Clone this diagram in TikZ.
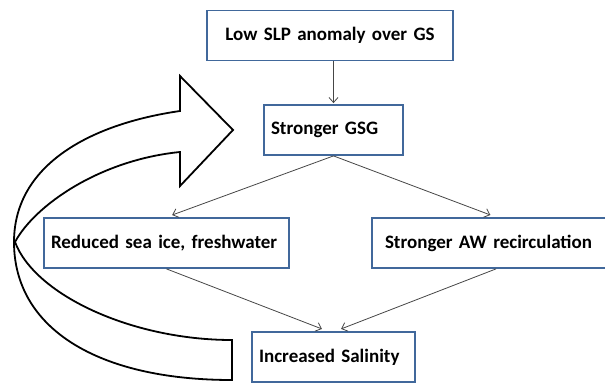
\documentclass[tikz,border=0pt]{standalone}
\usepackage{fontspec}
\setmainfont{Carlito}
\usetikzlibrary{arrows.meta,positioning}
\definecolor{boxblue}{RGB}{65,104,155}
\definecolor{linkgray}{RGB}{70,70,70}

\begin{document}
\begin{tikzpicture}[
    x=1pt, y=-1pt,
    box/.style={rectangle, draw=boxblue, line width=1.8pt, fill=white,
                minimum height=50pt, inner xsep=7pt, inner ysep=0pt,
                font=\fontsize{19}{22}\selectfont\bfseries, align=left},
    arrow/.style={draw=linkgray, line width=0.8pt,
                  -{Straight Barb[length=5pt,width=9pt]}, shorten >=6pt},
    bigarrow/.style={draw=black, line width=1.8pt, line join=miter, fill=white}
]
\useasboundingbox (0,0) rectangle (605,383);
\clip (0,0) rectangle (605,383);

\draw[bigarrow] (232,380) .. controls (97,380) and (14,328) .. (14,242)
    .. controls (14,165) and (90,124) .. (180,111) -- (180,76) -- (233,130)
    -- (180,186) -- (180,152) .. controls (100,160) and (35,205) .. (15,242)
    .. controls (35,295) and (132,340) .. (232,340) -- cycle;

\node[box, text width=232pt, align=center] (slp) at (330,35.5) {Low SLP anomaly over GS};
\node[box, text width=125pt] (gsg) at (333.5,130) {Stronger GSG};
\node[box, text width=231pt] (ice) at (166.5,243) {Reduced sea ice, freshwater};
\node[box, text width=222pt, inner xsep=13pt] (aw) at (496,243) {Stronger AW recirculation};
\node[box, text width=149pt] (sal) at (333.5,357) {Increased Salinity};

\draw[arrow, shorten >=1pt] (gsg.north |- slp.south) -- (gsg.north);
\draw[arrow] (gsg.south) -- (ice.north);
\draw[arrow] (gsg.south) -- (aw.north);
\draw[arrow] (ice.south) -- ([xshift=-6pt]sal.north);
\draw[arrow] (aw.south) -- ([xshift=2pt]sal.north);
\end{tikzpicture}
\end{document}
